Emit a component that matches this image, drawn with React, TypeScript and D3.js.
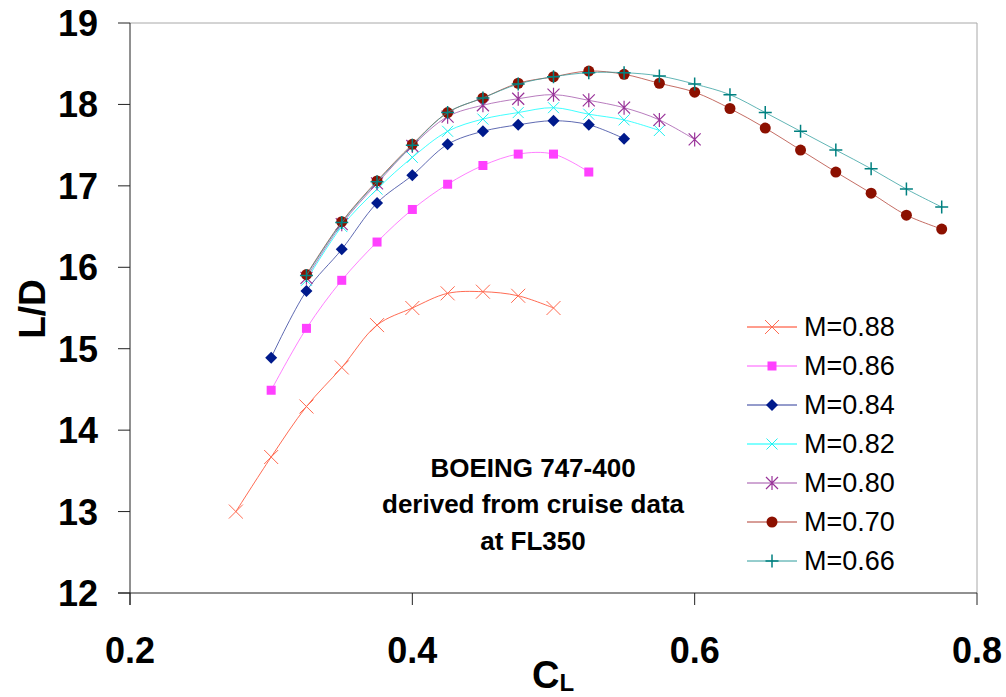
import React from 'react'
import * as d3 from 'd3'

// lift coefficient stations (shared by all series)
const clStations = [
  0.275, 0.3, 0.325, 0.35, 0.375, 0.4, 0.425, 0.45, 0.475, 0.5, 0.525, 0.55,
  0.575, 0.6, 0.625, 0.65, 0.675, 0.7, 0.725, 0.75, 0.775
]

const ld088 = [13.0, 13.67, 14.29, 14.77, 15.29, 15.5, 15.68, 15.7, 15.65, 15.5]
const ld086 = [14.49, 15.25, 15.84, 16.31, 16.71, 17.02, 17.25, 17.39, 17.39, 17.17]
const ld084 = [14.89, 15.71, 16.22, 16.79, 17.13, 17.51, 17.67, 17.75, 17.8, 17.75, 17.58]
const ld082 = [15.84, 16.5, 16.96, 17.35, 17.67, 17.82, 17.9, 17.96, 17.88, 17.81, 17.68]
const ld080 = [15.87, 16.53, 17.03, 17.49, 17.85, 17.99, 18.07, 18.12, 18.05, 17.96, 17.81, 17.57]
const ld070 = [
  15.91, 16.56, 17.06, 17.51, 17.9, 18.08, 18.26, 18.34, 18.41, 18.37, 18.26,
  18.15, 17.95, 17.71, 17.44, 17.17, 16.91, 16.64, 16.47
]
const ld066 = [
  15.9, 16.55, 17.05, 17.5, 17.9, 18.08, 18.25, 18.34, 18.39, 18.39, 18.35,
  18.25, 18.12, 17.9, 17.67, 17.44, 17.21, 16.96, 16.74
]

const seriesNames = ['M=0.88', 'M=0.86', 'M=0.84', 'M=0.82', 'M=0.80', 'M=0.70', 'M=0.66']
const seriesValues = [ld088, ld086, ld084, ld082, ld080, ld070, ld066]
// index into clStations of each series' first point
const seriesStart = [0, 1, 1, 2, 2, 2, 2]

const xTicks = [0.2, 0.4, 0.6, 0.8]
const yTicks = [12, 13, 14, 15, 16, 17, 18, 19]

const styles = [
  {line: '#ff3a1a', mark: 'cross', color: '#ff6a50', size: 7},
  {line: '#ff55ff', mark: 'square', color: '#ff40ff', size: 4.5},
  {line: '#2a3898', mark: 'diamond', color: '#001a8c', size: 6},
  {line: '#00ffff', mark: 'cross', color: '#20f0f0', size: 5.5},
  {line: '#a050a8', mark: 'star', color: '#993399', size: 6},
  {line: '#b03c30', mark: 'circle', color: '#8c1000', size: 5.5},
  {line: '#2c9c9c', mark: 'plus', color: '#008080', size: 6.5}
]

const FONT = "Arial, 'Liberation Sans', Helvetica, sans-serif"

function Marker({kind, x, y, color, size}) {
  const s = size
  if (kind === 'square')
    return <rect x={x - s} y={y - s} width={s * 2} height={s * 2} fill={color} />
  if (kind === 'diamond')
    return (
      <path d={`M${x},${y - s}L${x + s},${y}L${x},${y + s}L${x - s},${y}Z`} fill={color} />
    )
  if (kind === 'circle') return <circle cx={x} cy={y} r={s} fill={color} />
  if (kind === 'cross')
    return (
      <path
        d={`M${x - s},${y - s}L${x + s},${y + s}M${x - s},${y + s}L${x + s},${y - s}`}
        stroke={color}
        strokeWidth={1}
        fill="none"
      />
    )
  if (kind === 'plus')
    return (
      <path
        d={`M${x - s},${y}L${x + s},${y}M${x},${y - s}L${x},${y + s}`}
        stroke={color}
        strokeWidth={1.5}
        fill="none"
      />
    )
  // asterisk
  return (
    <path
      d={`M${x - s},${y - s}L${x + s},${y + s}M${x - s},${y + s}L${x + s},${y - s}M${x},${y - s - 1}L${x},${y + s + 1}`}
      stroke={color}
      strokeWidth={1.2}
      fill="none"
    />
  )
}

export default function App() {
  const x = d3.scaleLinear().domain([0.2, 0.8]).range([130, 977])
  const y = d3.scaleLinear().domain([12, 19]).range([593, 23])

  const series = seriesValues.map((vals, i) =>
    vals.map((v, j) => ({cl: clStations[seriesStart[i] + j], ld: v}))
  )

  const line = d3
    .line<{cl: number; ld: number}>()
    .curve(d3.curveCatmullRom.alpha(0.5))
    .x(d => x(d.cl))
    .y(d => y(d.ld))

  const legendX = 747
  const legendY = 327
  const legendStep = 39

  return (
    <svg
      width={1006}
      height={697}
      style={{position: 'absolute', left: 0, top: 0, background: '#fff'}}
      fontFamily={FONT}
    >
      {/* plot frame */}
      <line x1={x(0.2)} x2={x(0.8)} y1={y(19)} y2={y(19)} stroke="#a8a8a8" />
      <line x1={x(0.8)} x2={x(0.8)} y1={y(19)} y2={y(12)} stroke="#a8a8a8" />
      <line x1={x(0.2)} x2={x(0.2)} y1={y(19)} y2={y(12) + 12} stroke="#222" />
      <line x1={x(0.2) - 12} x2={x(0.8)} y1={y(12)} y2={y(12)} stroke="#222" />

      {yTicks.map(t => (
        <g key={'y' + t}>
          <line x1={x(0.2) - 12} x2={x(0.2)} y1={y(t)} y2={y(t)} stroke="#222" />
          <text x={98} y={y(t) + 13} textAnchor="end" fontSize={36} fontWeight="bold">
            {t}
          </text>
        </g>
      ))}
      {xTicks.map(t => (
        <g key={'x' + t}>
          <line x1={x(t)} x2={x(t)} y1={y(12)} y2={y(12) + 12} stroke="#222" />
          <text x={x(t)} y={663} textAnchor="middle" fontSize={36} fontWeight="bold">
            {t.toFixed(1)}
          </text>
        </g>
      ))}

      {/* axis titles */}
      <text
        transform="translate(45,309) rotate(-90)"
        textAnchor="middle"
        fontSize={37}
        fontWeight="bold"
      >
        L/D
      </text>
      <text x={532} y={688} fontSize={38} fontWeight="bold">
        C
        <tspan fontSize={24} dy={3}>
          L
        </tspan>
      </text>

      {/* series */}
      {series.map((pts, i) => (
        <g key={seriesNames[i]}>
          <path
            d={line(pts) || ''}
            fill="none"
            stroke={styles[i].line}
            strokeWidth={1}
            strokeOpacity={0.75}
          />
          {pts.map((p, j) => (
            <Marker
              key={j}
              kind={styles[i].mark}
              x={x(p.cl)}
              y={y(p.ld)}
              color={styles[i].color}
              size={styles[i].size}
            />
          ))}
        </g>
      ))}

      {/* annotation */}
      <g fontSize={26} fontWeight="bold" textAnchor="middle">
        <text x={533} y={477}>BOEING 747-400</text>
        <text x={533} y={513}>derived from cruise data</text>
        <text x={533} y={550}>at FL350</text>
      </g>

      {/* legend */}
      {seriesNames.map((name, i) => {
        const ly = legendY + i * legendStep
        return (
          <g key={'leg' + name}>
            <line x1={legendX} x2={legendX + 50} y1={ly} y2={ly} stroke={styles[i].line} />
            <Marker
              kind={styles[i].mark}
              x={legendX + 25}
              y={ly}
              color={styles[i].color}
              size={styles[i].size}
            />
            <text x={804} y={ly + 9} fontSize={27}>
              {name}
            </text>
          </g>
        )
      })}
    </svg>
  )
}
